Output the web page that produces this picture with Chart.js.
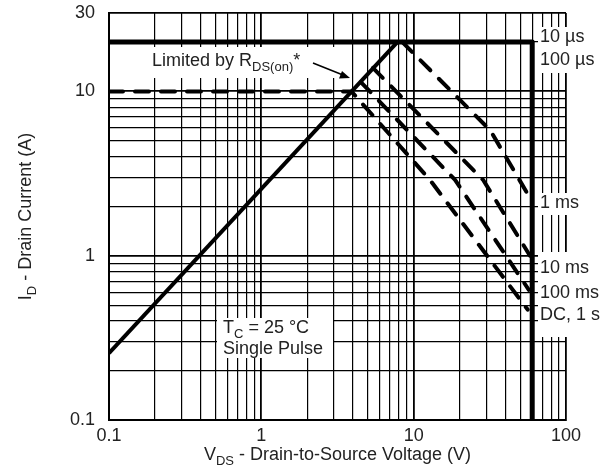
<!DOCTYPE html>
<html>
<head>
<meta charset="utf-8">
<script src="https://cdn.jsdelivr.net/npm/chart.js@4.4.1/dist/chart.umd.min.js"></script>
<style>
  html, body { margin: 0; padding: 0; background: #fff; }
  canvas { display: block; }
</style>
</head>
<body>
<canvas id="soa-chart" width="611" height="474"></canvas>
<script>
// tick labels
const xTickLabels = [0.1, 1, 10, 100];
const yTickLabels = [0.1, 1, 10, 30];

// safe operating area curves (VDS in V, ID in A)
const pulseLimitV = [0.1, 60, 60];
const pulseLimitI = [20, 20, 0.1];

const rdsLimitV = [0.1, 7.84];
const rdsLimitI = [0.255, 20];

const oneMsV = [8.4, 31.8, 58];
const oneMsI = [20, 5.8, 2.25];

const tenMsV = [5.4, 28.6, 58];
const tenMsI = [13.9, 2.89, 1.0];

const hundredMsV = [4.5, 18.7, 57];
const hundredMsI = [11.4, 2.89, 0.62];

const dcV = [0.1, 3.9, 12.8, 56];
const dcI = [10, 10, 2.89, 0.47];

// grid lines: 1..9 of every decade
const xGridValues = [];
[0.1, 1, 10].forEach((d) => {
  for (let m = 1; m <= 9; m++) xGridValues.push(+(d * m).toPrecision(3));
});
xGridValues.push(100);

const yGridValues = [];
[0.1, 1].forEach((d) => {
  for (let m = 1; m <= 9; m++) yGridValues.push(+(d * m).toPrecision(3));
});
yGridValues.push(10, 20, 30);

const toPoints = (xs, ys) => xs.map((x, i) => ({ x: x, y: ys[i] }));
const isLabel = (list, v) => list.some((l) => Math.abs(l - v) < 1e-9);

const fontFamily = '"Liberation Sans", Arial, Helvetica, sans-serif';
const textColor = "#222";

// draws text with subscript parts: parts = [[text, isSub], ...]
const drawParts = (ctx, parts, x, y, align) => {
  const big = "18px " + fontFamily;
  const small = "13px " + fontFamily;
  let total = 0;
  parts.forEach(([t, sub]) => {
    ctx.font = sub ? small : big;
    total += ctx.measureText(t).width;
  });
  let cx = align === "center" ? x - total / 2 : x;
  ctx.textAlign = "left";
  ctx.textBaseline = "middle";
  parts.forEach(([t, sub]) => {
    ctx.font = sub ? small : big;
    ctx.fillText(t, cx, sub ? y + 6 : y);
    cx += ctx.measureText(t).width;
  });
};

const annotations = {
  id: "annotations",
  beforeDatasetsDraw(chart) {
    const ctx = chart.ctx;
    ctx.save();
    ctx.fillStyle = "#fff";
    ctx.fillRect(148, 47, 192, 31);
    ctx.fillRect(217, 318, 116, 40);
    ctx.fillRect(538, 27, 72, 46);
    ctx.fillRect(538, 193, 72, 22);
    ctx.fillRect(538, 252, 72, 85);
    ctx.restore();
  },
  afterDatasetsDraw(chart) {
    const { ctx, chartArea } = chart;
    ctx.save();
    ctx.fillStyle = textColor;

    drawParts(ctx, [["Limited by R", false], ["DS(on)", true], ["*", false]], 152, 61, "left");

    // arrow
    ctx.strokeStyle = "#000";
    ctx.fillStyle = "#000";
    ctx.lineWidth = 1.5;
    ctx.beginPath();
    ctx.moveTo(313, 63);
    ctx.lineTo(343, 75);
    ctx.stroke();
    ctx.beginPath();
    ctx.moveTo(350, 78);
    ctx.lineTo(339, 78.5);
    ctx.lineTo(342, 71);
    ctx.closePath();
    ctx.fill();

    ctx.fillStyle = textColor;
    drawParts(ctx, [["T", false], ["C", true], [" = 25 °C", false]], 223, 328, "left");
    drawParts(ctx, [["Single Pulse", false]], 223, 349, "left");

    const rightLabels = [
      ["10 µs", 37],
      ["100 µs", 60],
      ["1 ms", 203],
      ["10 ms", 268],
      ["100 ms", 293],
      ["DC, 1 s", 315],
    ];
    rightLabels.forEach(([t, y]) => drawParts(ctx, [[t, false]], 540, y, "left"));

    // axis titles
    const midX = (chartArea.left + chartArea.right) / 2;
    drawParts(ctx, [["V", false], ["DS", true], [" - Drain-to-Source Voltage (V)", false]], midX, 455, "center");

    ctx.translate(26, (chartArea.top + chartArea.bottom) / 2);
    ctx.rotate(-Math.PI / 2);
    drawParts(ctx, [["I", false], ["D", true], [" - Drain Current (A)", false]], 0, 0, "center");
    ctx.restore();
  },
};

const solid = (data, width) => ({
  data: data,
  showLine: true,
  borderColor: "#000",
  borderWidth: width,
  borderJoinStyle: "round",
  pointRadius: 0,
  fill: false,
});

const dashed = (data) => ({
  data: data,
  showLine: true,
  borderColor: "#000",
  borderWidth: 4,
  borderDash: [14, 12],
  borderCapStyle: "round",
  borderJoinStyle: "round",
  pointRadius: 0,
  fill: false,
});

new Chart(document.getElementById("soa-chart"), {
  type: "scatter",
  data: {
    datasets: [
      solid(toPoints(pulseLimitV, pulseLimitI), 5),
      solid(toPoints(rdsLimitV, rdsLimitI), 4),
      dashed(toPoints(oneMsV, oneMsI)),
      dashed(toPoints(tenMsV, tenMsI)),
      dashed(toPoints(hundredMsV, hundredMsI)),
      dashed(toPoints(dcV, dcI)),
    ],
  },
  options: {
    responsive: false,
    animation: false,
    layout: { padding: { top: 13, right: 45, left: 0, bottom: 0 } },
    plugins: {
      legend: { display: false },
      tooltip: { enabled: false },
    },
    scales: {
      x: {
        type: "logarithmic",
        min: 0.1,
        max: 100,
        afterBuildTicks: (s) => {
          s.ticks = xGridValues.map((v) => ({ value: v }));
        },
        afterFit: (s) => {
          s.height = 54;
          s.paddingLeft = 0;
          s.paddingRight = 0;
        },
        grid: {
          color: "#000",
          lineWidth: (c) => (c.tick && isLabel(xTickLabels, c.tick.value) ? 1.8 : 1.2),
          drawTicks: false,
        },
        border: { color: "#000", width: 2 },
        ticks: {
          autoSkip: false,
          maxRotation: 0,
          padding: 5,
          color: textColor,
          font: { family: fontFamily, size: 18 },
          callback: (v) => (isLabel(xTickLabels, v) ? String(v) : ""),
        },
      },
      y: {
        type: "logarithmic",
        min: 0.1,
        max: 30,
        afterBuildTicks: (s) => {
          s.ticks = yGridValues.map((v) => ({ value: v }));
        },
        afterFit: (s) => {
          s.width = 109;
          s.paddingTop = 0;
          s.paddingBottom = 0;
        },
        grid: {
          color: "#000",
          lineWidth: (c) => (c.tick && isLabel(yTickLabels, c.tick.value) ? 1.8 : 1.2),
          drawTicks: false,
        },
        border: { color: "#000", width: 2 },
        ticks: {
          autoSkip: false,
          padding: 14,
          color: textColor,
          font: { family: fontFamily, size: 18 },
          callback: (v) => (isLabel(yTickLabels, v) ? String(v) : ""),
        },
      },
    },
  },
  plugins: [annotations],
});
</script>
</body>
</html>
